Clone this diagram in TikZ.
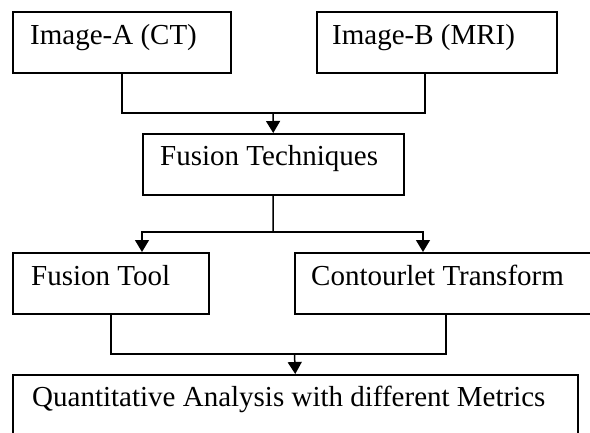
\documentclass[tikz,border=0pt]{standalone}
\usepackage{fontspec}
\setmainfont{Liberation Serif}
\usetikzlibrary{arrows.meta,calc}
\begin{document}
\begin{tikzpicture}[x=1pt,y=-1pt,
  box/.style={draw,line width=1.5pt,anchor=north west,inner sep=0pt,minimum height=61pt},
  lbl/.style={anchor=base west,inner sep=0pt,font=\fontsize{29}{34}\selectfont},
  link/.style={line width=1.5pt},
  flow/.style={line width=1.5pt,-{Triangle[width=14pt,length=12pt]}}]
\useasboundingbox (0,0) rectangle (590,432);
\clip (0,0) rectangle (590,432);

% boxes
\node[box,minimum width=218pt] (imgA) at (12,11) {};
\node[lbl] at ($(imgA.north west)+(18,33)$) {Image-A (CT)};

\node[box,minimum width=240pt] (imgB) at (316,11) {};
\node[lbl] at ($(imgB.north west)+(16,33)$) {Image-B (MRI)};

\node[box,minimum width=261pt] (fus) at (142,133) {};
\node[lbl] at ($(fus.north west)+(18,32)$) {Fusion Techniques};

\node[box,minimum width=196pt] (tool) at (12,252) {};
\node[lbl] at ($(tool.north west)+(19,33)$) {Fusion Tool};

\node[box,minimum width=311pt] (ctr) at (294,252) {};
\node[lbl] at ($(ctr.north west)+(17,33)$) {Contourlet Transform};

\node[box,minimum width=565pt,minimum height=75pt] (qa) at (12,374) {};
\node[lbl] at ($(qa.north west)+(20,32)$) {Quantitative Analysis with different Metrics};

% junction points
\coordinate (jIn) at (273,113);
\coordinate (jOut) at (273,232);
\coordinate (jRes) at (294.5,354);

% inputs to fusion
\draw[link] (imgA.south) |- (jIn);
\draw[link] ($(imgB.south west)+(109,0)$) |- (jIn);
\draw[flow] (jIn) -- (fus.north);

% fusion to the two methods
\draw[link] (fus.south) -- (jOut);
\draw[flow] (jOut) -| ($(tool.north west)+(130,0)$);
\draw[flow] (jOut) -| ($(ctr.north west)+(129,0)$);

% methods to analysis
\draw[link] (tool.south) |- (jRes);
\draw[link] ($(ctr.south west)+(152,0)$) |- (jRes);
\draw[flow] (jRes) -- (qa.north);
\end{tikzpicture}
\end{document}
